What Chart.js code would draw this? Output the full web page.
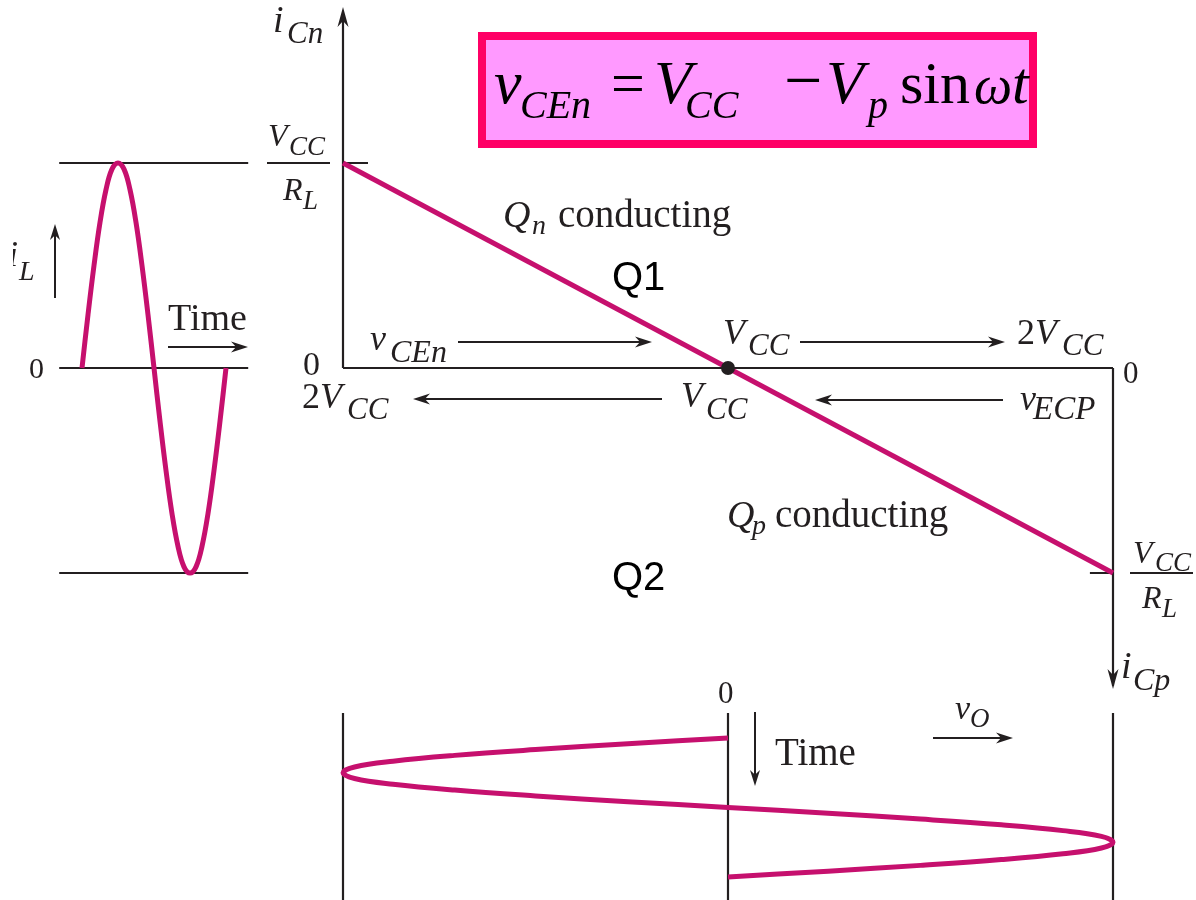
<!DOCTYPE html>
<html>
<head>
<meta charset="utf-8">
<title>Class B load line</title>
<script src="https://cdn.jsdelivr.net/npm/chart.js@4.4.1/dist/chart.umd.min.js"></script>
<style>
  html, body { margin: 0; padding: 0; background: #fff; }
  #wrap { width: 1196px; height: 900px; }
</style>
</head>
<body>
<div id="wrap"><canvas id="chart" width="1196" height="900"></canvas></div>
<script>
// load line: v_CE in units of V_CC, i_C in units of V_CC/R_L
var loadV = [0, 1, 2];
var loadI = [1, 0, -1];
// quiescent point
var qV = [1];
var qI = [0];
// one signal cycle in 15 degree steps
var steps = [0, 1, 2, 3, 4, 5, 6, 7, 8, 9, 10, 11, 12, 13, 14, 15, 16, 17, 18, 19, 20, 21, 22, 23, 24];
var iL = [0, 0.26, 0.5, 0.71, 0.87, 0.97, 1, 0.97, 0.87, 0.71, 0.5, 0.26, 0,
          -0.26, -0.5, -0.71, -0.87, -0.97, -1, -0.97, -0.87, -0.71, -0.5, -0.26, 0];
var vO = [0, -0.26, -0.5, -0.71, -0.87, -0.97, -1, -0.97, -0.87, -0.71, -0.5, -0.26, 0,
          0.26, 0.5, 0.71, 0.87, 0.97, 1, 0.97, 0.87, 0.71, 0.5, 0.26, 0];
// guide levels for the two waveforms
var iLevels = [1, 0, -1];
var vLevels = [-1, 0, 1];

var PINK = '#c6106e';
var INK = '#231f20';

function pts(xs, ys) {
  return xs.map(function (x, i) { return { x: x, y: ys[i] }; });
}

function seg(xs, ys, xid, yid, color, width) {
  return {
    data: pts(xs, ys),
    xAxisID: xid, yAxisID: yid,
    borderColor: color, borderWidth: width,
    pointRadius: 0, tension: 0, fill: false
  };
}

var datasets = [];

// Q point
datasets.push({
  data: pts(qV, qI), xAxisID: 'x', yAxisID: 'y',
  showLine: false, pointRadius: 7, pointBackgroundColor: INK, pointBorderWidth: 0
});
// load line
datasets.push(seg(loadV, loadI, 'x', 'y', PINK, 5));
// i_L(t) and v_O(t)
var sIL = seg(steps, iL, 'xt', 'y', PINK, 5); sIL.tension = 0.4;
datasets.push(sIL);
var sVO = seg(vO, steps, 'xo', 'yt', PINK, 5); sVO.tension = 0.4;
datasets.push(sVO);

// axes of the i_C - v_CE plane
datasets.push(seg([0, 0], [0, 1.72], 'x', 'y', INK, 2.2));
datasets.push(seg([0, 2], [0, 0], 'x', 'y', INK, 2.2));
datasets.push(seg([2, 2], [0, -1.55], 'x', 'y', INK, 2.2));
datasets.push(seg([0, 0.065], [1, 1], 'x', 'y', INK, 2));
datasets.push(seg([1.94, 2], [-1, -1], 'x', 'y', INK, 2));
// level lines beside i_L
iLevels.forEach(function (lv) {
  datasets.push(seg([-3.8, 27.7], [lv, lv], 'xt', 'y', INK, 2.2));
});
// level lines under v_O
vLevels.forEach(function (lv) {
  datasets.push(seg([lv, lv], [-4.3, 30], 'xo', 'yt', INK, 2.2));
});

function font(size, italic, fam) {
  return (italic ? 'italic ' : '') + size + 'px ' + (fam || '"Liberation Serif"');
}

function txt(ctx, s, x, y, size, italic, fam) {
  ctx.font = font(size, italic, fam);
  ctx.fillText(s, x, y);
}

function arrow(ctx, x1, y1, x2, y2, len, half) {
  len = len || 17; half = half || 5.5;
  var a = Math.atan2(y2 - y1, x2 - x1);
  ctx.beginPath();
  ctx.moveTo(x1, y1);
  ctx.lineTo(x2 - Math.cos(a) * len * 0.6, y2 - Math.sin(a) * len * 0.6);
  ctx.stroke();
  ctx.save();
  ctx.translate(x2, y2);
  ctx.rotate(a);
  ctx.beginPath();
  ctx.moveTo(0, 0);
  ctx.lineTo(-len, -half);
  ctx.lineTo(-len * 0.7, 0);
  ctx.lineTo(-len, half);
  ctx.closePath();
  ctx.fill();
  ctx.restore();
}

var labels = {
  id: 'labels',
  afterDraw: function (chart) {
    var ctx = chart.ctx;
    ctx.save();
    ctx.fillStyle = INK;
    ctx.strokeStyle = INK;
    ctx.lineWidth = 2;
    ctx.textBaseline = 'alphabetic';

    // equation box
    ctx.fillStyle = '#ff99ff';
    ctx.fillRect(478, 32, 559, 116);
    ctx.strokeStyle = '#ff0066';
    ctx.lineWidth = 8;
    ctx.strokeRect(482, 36, 551, 108);
    ctx.fillStyle = '#000';
    txt(ctx, 'v', 494, 103, 62, true);
    txt(ctx, 'CEn', 520, 118, 40, true);
    txt(ctx, '=', 611, 103, 60, false);
    txt(ctx, 'V', 654, 103, 62, true);
    txt(ctx, 'CC', 685, 118, 40, true);
    txt(ctx, '\u2212', 784, 103, 68, false);
    txt(ctx, 'V', 826, 103, 62, true);
    txt(ctx, 'p', 868, 118, 40, true);
    txt(ctx, 'sin', 900, 103, 60, false);
    txt(ctx, '\u03c9', 974, 103, 54, true);
    txt(ctx, 't', 1012, 103, 60, true);

    ctx.fillStyle = INK;
    ctx.strokeStyle = INK;
    ctx.lineWidth = 2;

    // i_L waveform labels
    ctx.save();
    ctx.beginPath();
    ctx.rect(13, 200, 40, 100);
    ctx.clip();
    txt(ctx, 'i', 8, 266, 36, true);
    ctx.restore();
    txt(ctx, 'L', 19, 280, 28, true);
    arrow(ctx, 55, 298, 55, 224, 16, 5);
    txt(ctx, '0', 29, 378, 30, false);
    txt(ctx, 'Time', 168, 330, 38, false);
    arrow(ctx, 168, 347, 248, 347);

    // axis arrowheads
    arrow(ctx, 343, 30, 343, 7, 20, 5.5);
    arrow(ctx, 1113, 660, 1113, 689, 20, 5.5);

    // i_Cn axis
    txt(ctx, 'i', 273, 32, 38, true);
    txt(ctx, 'Cn', 287, 43, 31, true);
    // V_CC / R_L, upper
    txt(ctx, 'V', 268, 146, 32, true);
    txt(ctx, 'CC', 289, 155, 27, true);
    ctx.fillRect(267, 162, 63, 2);
    txt(ctx, 'R', 283, 200, 32, true);
    txt(ctx, 'L', 303, 209, 27, true);
    // V_CC / R_L, lower
    txt(ctx, 'V', 1133, 563, 32, true);
    txt(ctx, 'CC', 1155, 571, 27, true);
    ctx.fillRect(1130, 572, 63, 2);
    txt(ctx, 'R', 1142, 608, 32, true);
    txt(ctx, 'L', 1162, 617, 27, true);
    // i_Cp axis
    txt(ctx, 'i', 1121, 678, 38, true);
    txt(ctx, 'Cp', 1133, 690, 32, true);

    // zero marks
    txt(ctx, '0', 303, 375, 34, false);
    txt(ctx, '0', 1123, 383, 31, false);
    txt(ctx, '0', 718, 703, 31, false);

    // v_CEn scale above the axis
    txt(ctx, 'v', 370, 350, 36, true);
    txt(ctx, 'CEn', 390, 362, 32, true);
    arrow(ctx, 458, 342, 652, 342);
    txt(ctx, 'V', 723, 344, 36, true);
    txt(ctx, 'CC', 748, 355, 31, true);
    arrow(ctx, 800, 342, 1005, 342);
    txt(ctx, '2', 1017, 344, 36, false);
    txt(ctx, 'V', 1035, 344, 36, true);
    txt(ctx, 'CC', 1062, 355, 31, true);

    // v_ECP scale below the axis
    txt(ctx, '2', 302, 408, 36, false);
    txt(ctx, 'V', 320, 408, 36, true);
    txt(ctx, 'CC', 347, 419, 31, true);
    arrow(ctx, 662, 399, 413, 399);
    txt(ctx, 'V', 681, 407, 36, true);
    txt(ctx, 'CC', 706, 419, 31, true);
    arrow(ctx, 1003, 400, 815, 400);
    txt(ctx, 'v', 1020, 410, 36, true);
    txt(ctx, 'ECP', 1033, 419, 33, true);

    // regions
    txt(ctx, 'Q', 503, 227, 38, true);
    txt(ctx, 'n', 532, 234, 28, true);
    txt(ctx, 'conducting', 558, 227, 39, false);
    txt(ctx, 'Q', 727, 527, 38, true);
    txt(ctx, 'p', 752, 534, 28, true);
    txt(ctx, 'conducting', 775, 527, 39, false);
    ctx.fillStyle = '#000';
    txt(ctx, 'Q1', 612, 290, 40, false, '"Liberation Sans"');
    txt(ctx, 'Q2', 612, 590, 40, false, '"Liberation Sans"');
    ctx.fillStyle = INK;

    // v_O waveform labels
    arrow(ctx, 755, 712, 755, 786, 16, 5);
    txt(ctx, 'Time', 775, 765, 39, false);
    txt(ctx, 'v', 955, 719, 34, true);
    txt(ctx, 'O', 970, 727, 27, true);
    arrow(ctx, 933, 738, 1013, 738);

    ctx.restore();
  }
};

new Chart(document.getElementById('chart'), {
  type: 'line',
  data: { datasets: datasets },
  plugins: [labels],
  options: {
    responsive: false,
    animation: false,
    events: [],
    layout: { padding: 0, autoPadding: false },
    plugins: { legend: { display: false }, tooltip: { enabled: false } },
    elements: { line: { capBezierPoints: false, borderCapStyle: 'butt' } },
    scales: {
      x:  { type: 'linear', display: false, min: -343 / 385, max: (1196 - 343) / 385 },
      y:  { type: 'linear', display: false, min: -532 / 205, max: 368 / 205 },
      xt: { type: 'linear', display: false, min: -82 / 6, max: (1196 - 82) / 6 },
      xo: { type: 'linear', display: false, min: -728 / 385, max: (1196 - 728) / 385 },
      yt: { type: 'linear', display: false, reverse: true, min: -738 / 5.79, max: (900 - 738) / 5.79 }
    }
  }
});
</script>
</body>
</html>
